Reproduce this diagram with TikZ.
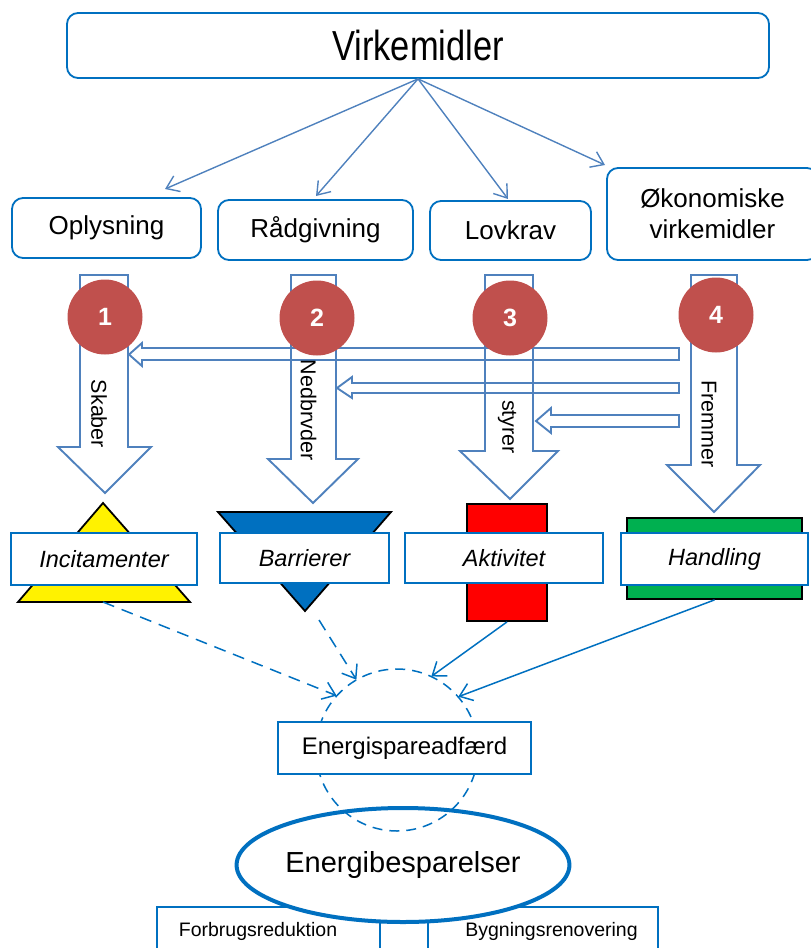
\documentclass[tikz,border=0pt]{standalone}
\usepackage{graphicx}
\usepackage{fontspec}
\setmainfont{Liberation Sans}
\usetikzlibrary{arrows.meta,shapes.geometric}

\definecolor{frame}{HTML}{0070C0}
\definecolor{steel}{HTML}{4F81BD}
\definecolor{badgered}{HTML}{C0504D}
\definecolor{okgreen}{HTML}{00B050}

\tikzset{
  topbox/.style={draw=frame, line width=1.8pt, rounded corners=11pt, fill=white,
    inner sep=0pt, align=center, font=\fontsize{26}{31}\selectfont},
  feed/.style={draw=steel, line width=1.4pt,
    -{Straight Barb[length=12pt,width=17pt,line width=1.4pt]}},
  block/.style={draw=steel, line width=1.9pt, line join=miter},
  badge/.style={circle, fill=badgered, minimum size=75pt, inner sep=0pt,
    text=white, font=\bfseries\fontsize{25}{30}\selectfont},
  verb/.style={rotate=-90, inner sep=0pt, font=\fontsize{21.5}{26}\selectfont},
  marker/.style={draw=black, line width=1.8pt, inner sep=0pt},
  tag/.style={draw=frame, line width=1.8pt, fill=white, inner sep=0pt,
    font=\itshape\fontsize{23.5}{28}\selectfont},
  plainbox/.style={draw=frame, line width=1.6pt, fill=white, inner sep=0pt},
  link/.style={draw=frame, line width=1.5pt,
    -{Straight Barb[length=12pt,width=18pt,line width=1.5pt]}},
  dashlink/.style={link, dash pattern=on 12pt off 8pt},
}

\begin{document}
\begin{tikzpicture}[x=1pt, y=-1pt]
\useasboundingbox (0,0) rectangle (811,948);

% --- instruments ---------------------------------------------------------
\node[topbox, minimum width=702pt, minimum height=65pt] (vm) at (418,45.5)
  {\raisebox{-4.5pt}{\scalebox{0.82}[1]{\fontsize{42}{50}\selectfont Virkemidler}}};
\node[topbox, minimum width=189pt, minimum height=60pt] (opl) at (106.5,228) {Oplysning};
\node[topbox, minimum width=195pt, minimum height=60pt] (rad) at (315.5,230) {Rådgivning};
\node[topbox, minimum width=161pt, minimum height=59pt] (lov) at (510.5,230.5) {Lovkrav};
\node[topbox, minimum width=211pt, minimum height=92pt] (oko) at (712.5,214)
  {Økonomiske\\virkemidler};

\coordinate (t1) at (165,189);
\coordinate (t2) at (316,196);
\coordinate (t3) at (508,199);
\coordinate (t4) at (605,165);
\draw[feed] (vm.south) -- (t1);
\draw[feed] (vm.south) -- (t2);
\draw[feed] (vm.south) -- (t3);
\draw[feed] (vm.south) -- (t4);

% --- hollow block arrows -------------------------------------------------
\draw[block] (80,275) -- (128,275) -- (128,447) -- (151,447) -- (105,493)
  -- (58,447) -- (80,447) -- cycle;
\draw[block] (291,275) -- (336,275) -- (336,459) -- (358,459) -- (313,503)
  -- (268,459) -- (291,459) -- cycle;
\draw[block] (485,275) -- (533,275) -- (533,451) -- (558,451) -- (510,499)
  -- (460,451) -- (485,451) -- cycle;
\draw[block] (691,275) -- (737,275) -- (737,465) -- (760,465) -- (714,512)
  -- (667,465) -- (691,465) -- cycle;

\draw[block] (679,348) -- (142,348) -- (142,343) -- (129,354.5) -- (142,366)
  -- (142,360) -- (679,360) -- cycle;
\draw[block] (679,383) -- (352,383) -- (352,377) -- (337,388) -- (352,398)
  -- (352,393) -- (679,393) -- cycle;
\draw[block] (679,415) -- (551,415) -- (551,408) -- (536,421) -- (551,433)
  -- (551,427) -- (679,427) -- cycle;

% --- numbered badges -----------------------------------------------------
\node[badge] (b1) at (105,317) {1};
\node[badge] (b2) at (317,318) {2};
\node[badge] (b3) at (510,318) {3};
\node[badge] (b4) at (716,315) {4};

\node[verb] (v1) at (99,414) {Skaber};
\node[verb] (v2) at (308.5,410) {Nedbrvder};
\node[verb] (v3) at (507,427) {styrer};
\node[verb] (v4) at (709,424) {Fremmer};

% --- effect symbols ------------------------------------------------------
\draw[marker, fill=yellow] (103,503) -- (190,602) -- (18,602) -- cycle;
\coordinate (inc-foot) at (103,602);
\draw[marker, fill=frame] (218,512) -- (391,512) -- (305,611) -- cycle;
\coordinate (bar-foot) at (319,620);
\node[marker, fill=red, minimum width=80pt, minimum height=117pt] (akt-bar) at (507,562.5) {};
\node[marker, fill=okgreen, minimum width=175pt, minimum height=81pt] (han-bar) at (714.5,558.5) {};

\node[tag, minimum width=186pt, minimum height=52pt] (inc) at (104,559) {Incitamenter};
\node[tag, minimum width=169pt, minimum height=50pt] (bar) at (304.5,558) {Barrierer};
\node[tag, minimum width=198pt, minimum height=50pt] (akt) at (504,558) {Aktivitet};
\node[tag, minimum width=187pt, minimum height=52pt] (han) at (714.5,559) {Handling};

% --- outcome -------------------------------------------------------------
\node[plainbox, minimum width=223pt, minimum height=48pt, font=\fontsize{19.5}{23}\selectfont]
  (forb) at (268.5,931) {Forbrugsreduktion\hspace*{21pt}};
\node[plainbox, minimum width=48pt, minimum height=48pt] (mid) at (404,931) {};
\node[plainbox, minimum width=230pt, minimum height=48pt, font=\fontsize{19.5}{23}\selectfont]
  (byg) at (543,931) {\hspace*{17pt}Bygningsrenovering};

\node[ellipse, draw=frame, line width=4pt, fill=white, minimum width=330pt,
  minimum height=114pt, inner sep=0pt, font=\fontsize{29}{34}\selectfont]
  (sav) at (403,865) {Energibesparelser};

\node[circle, minimum size=162pt, inner sep=0pt] (zone) at (397,750) {};
\draw[frame, line width=1.5pt, dash pattern=on 10pt off 7pt] (zone.center) circle (81pt);

\node[plainbox, line width=1.8pt, minimum width=253pt, minimum height=52pt,
  font=\fontsize{24}{29}\selectfont] (adf) at (404.5,748) {Energispareadfærd};

\draw[dashlink] (inc-foot) -- (zone.138);
\draw[dashlink] (bar-foot) -- (zone.120);
\draw[link] (akt-bar.south) -- (zone.65);
\draw[link] (han-bar.south) -- (zone.41);
\end{tikzpicture}
\end{document}
